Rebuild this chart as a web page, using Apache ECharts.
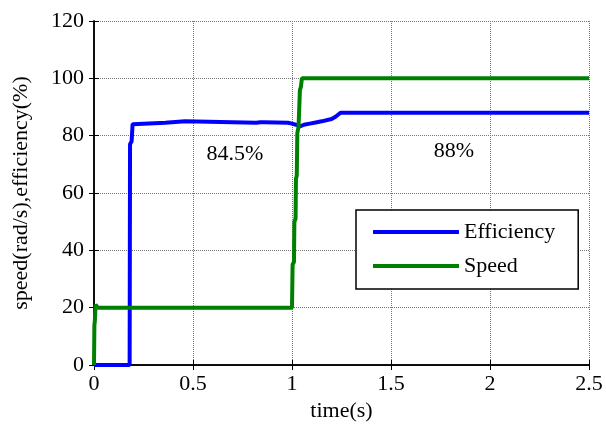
<!DOCTYPE html>
<html>
<head>
<meta charset="utf-8">
<script src="https://cdn.jsdelivr.net/npm/echarts@6/dist/echarts.min.js"></script>
<style>
html,body{margin:0;padding:0;background:#fff;}
#chart{width:606px;height:429px;}
</style>
</head>
<body>
<div id="chart"></div>
<script>
// ---- data ----
var effTime  = [0, 0.18, 0.182, 0.19, 0.195, 0.205, 0.36, 0.37, 0.46, 0.47, 0.82, 0.83, 0.84, 0.85, 0.86, 0.87, 0.98, 1.0, 1.02, 1.04, 1.06, 1.09, 1.12, 1.15, 1.2, 1.22, 1.245, 2.5];
var effValue = [0, 0, 77, 78, 84, 84.5, 84.5, 85, 85, 84.5, 84.5, 85, 84.7, 85, 84.7, 84.5, 84.5, 84.2, 83.8, 83.2, 83.8, 84.2, 84.6, 85, 85.8, 86.6, 88, 88];
var spdTime  = [0, 0.002, 0.004, 0.008, 0.015, 0.02, 1.0, 1.003, 1.01, 1.012, 1.018, 1.02, 1.024, 1.027, 1.033, 1.04, 1.045, 1.05, 2.5];
var spdValue = [0, 14, 15, 21, 20.5, 20, 20, 35, 36, 50, 51, 65, 66, 81, 83, 96, 97, 100, 100];
var xTicks = [0, 0.5, 1, 1.5, 2, 2.5];
var yTicks = [0, 20, 40, 60, 80, 100, 120];
var seriesNames = ['Efficiency', 'Speed'];
var noteTime  = [0.712, 1.818];
var noteValue = [73.4, 74.7];
var noteText  = ['84.5%', '88%'];

function pairs(xs, ys) { return xs.map(function (x, i) { return [x, ys[i]]; }); }

var FONT = '"Liberation Serif", "Times New Roman", serif';
var chart = echarts.init(document.getElementById('chart'), null, {renderer: 'canvas'});

var axisLineStyle = {show: true, lineStyle: {color: '#000', width: 1.5}};
var tickStyle = {show: true, inside: true, length: 5, lineStyle: {color: '#000', width: 1}};
var gridLine = {show: true, lineStyle: {color: '#777', type: 'dotted', width: 1}};

var option = {
  animation: false,
  backgroundColor: '#fff',
  textStyle: {fontFamily: FONT},
  grid: {left: 94, right: 17, top: 21, bottom: 64, containLabel: false},
  legend: {
    data: seriesNames.map(function (n) { return {name: n, icon: 'rect'}; }),
    orient: 'vertical',
    left: 356, top: 210,
    backgroundColor: '#fff',
    borderColor: '#000', borderWidth: 1.5, borderRadius: 0,
    padding: [11, 23, 12, 17],
    itemGap: 12,
    itemWidth: 86, itemHeight: 4,
    textStyle: {fontFamily: FONT, fontSize: 22, color: '#000', lineHeight: 22}
  },
  xAxis: [{
    type: 'value', min: xTicks[0], max: xTicks[xTicks.length - 1], interval: xTicks[1] - xTicks[0],
    position: 'bottom',
    name: 'time(s)', nameLocation: 'middle', nameGap: 33,
    nameTextStyle: {fontFamily: FONT, fontSize: 22, color: '#000'},
    axisLine: axisLineStyle, axisTick: tickStyle,
    axisLabel: {fontFamily: FONT, fontSize: 22, color: '#000', margin: 8},
    splitLine: gridLine
  }, {
    type: 'value', min: xTicks[0], max: xTicks[xTicks.length - 1], interval: xTicks[1] - xTicks[0],
    position: 'top',
    axisLine: axisLineStyle, axisTick: tickStyle,
    axisLabel: {show: false}, splitLine: {show: false}
  }],
  yAxis: [{
    type: 'value', min: yTicks[0], max: yTicks[yTicks.length - 1], interval: yTicks[1] - yTicks[0],
    position: 'left',
    name: 'speed(rad/s),efficiency(%)', nameLocation: 'middle', nameGap: 62,
    nameTextStyle: {fontFamily: FONT, fontSize: 22, color: '#000'},
    axisLine: axisLineStyle, axisTick: tickStyle,
    axisLabel: {fontFamily: FONT, fontSize: 22, color: '#000', margin: 10},
    splitLine: gridLine
  }, {
    type: 'value', min: yTicks[0], max: yTicks[yTicks.length - 1], interval: yTicks[1] - yTicks[0],
    position: 'right',
    axisLine: axisLineStyle, axisTick: tickStyle,
    axisLabel: {show: false}, splitLine: {show: false}
  }],
  series: [{
    name: seriesNames[0], type: 'line', xAxisIndex: 0, yAxisIndex: 0,
    data: pairs(effTime, effValue), symbol: 'none',
    color: '#0000FF',
    lineStyle: {color: '#0000FF', width: 4}, z: 3
  }, {
    name: seriesNames[1], type: 'line', xAxisIndex: 0, yAxisIndex: 0,
    data: pairs(spdTime, spdValue), symbol: 'none',
    color: '#008000',
    lineStyle: {color: '#008000', width: 4}, z: 4
  }, {
    name: 'notes', type: 'scatter', xAxisIndex: 0, yAxisIndex: 0,
    symbolSize: 0, silent: true,
    itemStyle: {opacity: 1},
    data: noteTime.map(function (t, i) { return {value: [t, noteValue[i]], label: {formatter: noteText[i]}}; }),
    label: {show: true, position: 'inside', fontFamily: FONT, fontSize: 22, color: '#000', opacity: 1}
  }]
};
chart.setOption(option);
</script>
</body>
</html>
